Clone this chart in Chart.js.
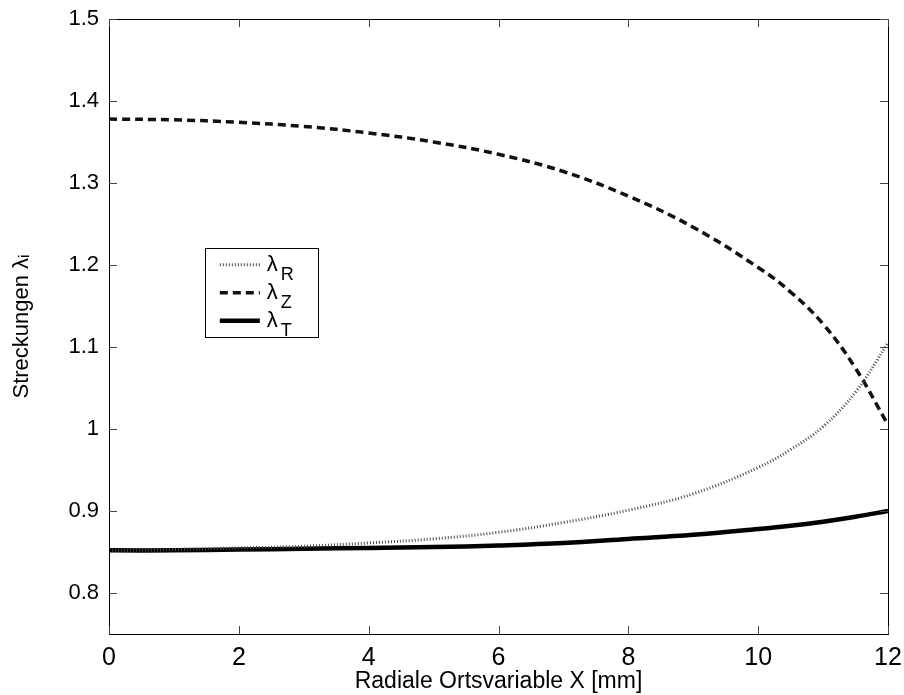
<!DOCTYPE html>
<html>
<head>
<meta charset="utf-8">
<script src="https://cdn.jsdelivr.net/npm/chart.js@4"></script>
<style>
  html, body { margin: 0; padding: 0; background: #fff; }
  #wrap { width: 904px; height: 695px; position: relative; }
</style>
</head>
<body>
<div id="wrap"><canvas id="chart-streckungen"></canvas></div>
<script>
// Werte
const xValues = [0, 1, 2, 3, 4, 5, 6, 7, 8, 9, 10, 10.5, 11, 11.5, 12];
const lambdaR = [0.852, 0.853, 0.855, 0.857, 0.861, 0.866, 0.874, 0.886, 0.901, 0.921, 0.953, 0.975, 1.003, 1.045, 1.105];
const lambdaZ = [1.378, 1.377, 1.374, 1.369, 1.361, 1.350, 1.335, 1.314, 1.284, 1.246, 1.197, 1.167, 1.128, 1.074, 1.005];
const lambdaT = [0.852, 0.852, 0.853, 0.854, 0.855, 0.856, 0.858, 0.861, 0.866, 0.871, 0.878, 0.882, 0.887, 0.893, 0.900];

const xTicks = [0, 2, 4, 6, 8, 10, 12];
const yTicks = [0.8, 0.9, 1.0, 1.1, 1.2, 1.3, 1.4, 1.5];

const seriesNames = ["R", "Z", "T"];

const toPoints = (ys) => xValues.map((x, i) => ({ x: x, y: ys[i] }));

// Rahmen mit nach innen zeigenden Ticks auf allen vier Seiten
const boxPlugin = {
    id: "matlabBox",
    afterDraw(chart) {
        const ctx = chart.ctx;
        const a = chart.chartArea;
        const xs = chart.scales.x;
        const ys = chart.scales.y;
        ctx.save();
        ctx.strokeStyle = "#000";
        ctx.lineWidth = 1;
        ctx.strokeRect(Math.round(a.left) + 0.5, Math.round(a.top) + 0.5, Math.round(a.right - a.left), Math.round(a.bottom - a.top));
        ctx.strokeStyle = "#444";
        const len = 8;
        ctx.beginPath();
        xTicks.forEach((v) => {
            const px = Math.round(xs.getPixelForValue(v)) + 0.5;
            ctx.moveTo(px, a.bottom); ctx.lineTo(px, a.bottom - len);
            ctx.moveTo(px, a.top); ctx.lineTo(px, a.top + len);
        });
        yTicks.forEach((v) => {
            const py = Math.round(ys.getPixelForValue(v)) + 0.5;
            ctx.moveTo(a.left, py); ctx.lineTo(a.left + len, py);
            ctx.moveTo(a.right, py); ctx.lineTo(a.right - len, py);
        });
        ctx.stroke();
        ctx.restore();
    },
};

// Legende mit tiefgestellten Indizes
const legendPlugin = {
    id: "subLegend",
    afterDraw(chart) {
        const ctx = chart.ctx;
        const a = chart.chartArea;
        const left = a.left + 0.123 * (a.right - a.left);
        const top = a.top + 0.372 * (a.bottom - a.top);
        const w = 113, h = 89;
        ctx.save();
        ctx.fillStyle = "#fff";
        ctx.fillRect(left, top, w, h);
        ctx.strokeStyle = "#000";
        ctx.lineWidth = 1;
        ctx.strokeRect(Math.round(left) + 0.5, Math.round(top) + 0.5, w, h);
        chart.data.datasets.forEach((ds, i) => {
            const y = top + 17 + i * 28;
            ctx.beginPath();
            ctx.setLineDash(ds.borderDash || []);
            ctx.strokeStyle = ds.borderColor;
            ctx.lineWidth = ds.borderWidth;
            ctx.moveTo(left + 15, y);
            ctx.lineTo(left + 55, y);
            ctx.stroke();
            ctx.setLineDash([]);
            ctx.fillStyle = "#000";
            ctx.textBaseline = "alphabetic";
            ctx.font = "22px 'Liberation Sans', Arial, sans-serif";
            ctx.fillText("\u03bb", left + 62, y + 6);
            ctx.font = "18px 'Liberation Sans', Arial, sans-serif";
            ctx.fillText(seriesNames[i], left + 76, y + 15);
        });
        ctx.restore();
    },
};

const chartStreckungen = new Chart(document.getElementById("chart-streckungen"), {
    type: "line",
    data: {
        datasets: [
            {
                label: "\u03bbR",
                data: toPoints(lambdaR),
                borderColor: "#4a4a4a",
                borderWidth: 3,
                borderDash: [1, 2],
                pointRadius: 0,
                tension: 0.4,
            },
            {
                label: "\u03bbZ",
                data: toPoints(lambdaZ),
                borderColor: "#111",
                borderWidth: 3.5,
                borderDash: [8, 5],
                pointRadius: 0,
                tension: 0.4,
            },
            {
                label: "\u03bbT",
                data: toPoints(lambdaT),
                borderColor: "#000",
                borderWidth: 4.5,
                pointRadius: 0,
                tension: 0.4,
            },
        ],
    },
    options: {
        responsive: true,
        maintainAspectRatio: false,
        animation: false,
        layout: { padding: { top: 19, right: 16, left: 0, bottom: 0 } },
        plugins: {
            legend: { display: false },
            tooltip: { enabled: false },
        },
        scales: {
            x: {
                type: "linear",
                min: 0,
                max: 12,
                afterBuildTicks: (s) => { s.ticks = xTicks.map((v) => ({ value: v })); },
                afterFit: (s) => { s.height = 61; s.paddingLeft = 0; s.paddingRight = 0; },
                grid: { display: false, drawTicks: false },
                border: { display: false },
                ticks: {
                    color: "#000",
                    padding: 9,
                    maxRotation: 0,
                    font: { family: "'Liberation Sans', Arial", size: 25 },
                },
                title: {
                    display: true,
                    text: "Radiale Ortsvariable X [mm]",
                    color: "#000",
                    padding: { top: 0, bottom: 0 },
                    font: { family: "'Liberation Sans', Arial", size: 23 },
                },
            },
            y: {
                type: "linear",
                min: 0.75,
                max: 1.5,
                afterBuildTicks: (s) => { s.ticks = yTicks.map((v) => ({ value: v })); },
                afterFit: (s) => { s.width = 109; s.paddingTop = 0; s.paddingBottom = 0; },
                grid: { display: false, drawTicks: false },
                border: { display: false },
                ticks: {
                    color: "#000",
                    padding: 10,
                    callback: (v) => String(+v.toFixed(2)),
                    font: { family: "'Liberation Sans', Arial", size: 22 },
                },
                title: {
                    display: true,
                    text: "Streckungen \u03bb\u1d62",
                    color: "#000",
                    padding: { top: 9, bottom: 0 },
                    font: { family: "'Liberation Sans', Arial", size: 22 },
                },
            },
        },
    },
    plugins: [boxPlugin, legendPlugin],
});
</script>
</body>
</html>
